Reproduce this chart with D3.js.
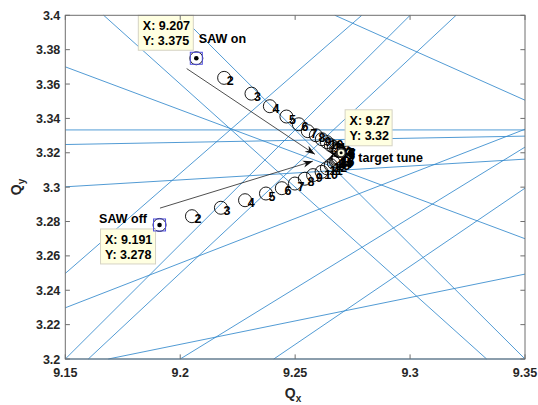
<!DOCTYPE html>
<html>
<head>
<meta charset="utf-8">
<script src="https://cdn.jsdelivr.net/npm/d3@7"></script>
<style>
  html, body { margin: 0; padding: 0; background: #fff; }
  svg { display: block; font-family: "Liberation Sans", Arial, sans-serif; }
</style>
</head>
<body>
<script>
//## Data

const xTicks = [9.15, 9.2, 9.25, 9.3, 9.35];
const yTicks = [3.2, 3.22, 3.24, 3.26, 3.28, 3.3, 3.32, 3.34, 3.36, 3.38, 3.4];

// resonance lines, end points as [Qx1, Qy1, Qx2, Qy2]
const resonanceLines = [
  [9.1667, 3.4, 9.3333, 3.2],
  [9.2, 3.4, 9.35, 3.2],
  [9.15, 3.37, 9.35, 3.27],
  [9.2673, 3.4, 9.35, 3.3506],
  [9.15, 3.3333, 9.35, 3.3333],
  [9.15, 3.3248, 9.35, 3.3297],
  [9.15, 3.3002, 9.35, 3.3163],
  [9.15, 3.2498, 9.279, 3.4],
  [9.15, 3.2298, 9.35, 3.3337],
  [9.15, 3.2, 9.3, 3.4],
  [9.16, 3.2, 9.32, 3.4],
  [9.1687, 3.2, 9.35, 3.2494],
  [9.2, 3.2, 9.35, 3.3233],
  [9.2407, 3.2, 9.35, 3.2994],
  [9.15, 3.2, 9.35, 3.2]
];

// tune steps with SAW on
const qxOn = [9.207, 9.2191, 9.231, 9.239, 9.2462, 9.2516, 9.2555, 9.259, 9.2616, 9.2638,
              9.2655, 9.2668, 9.2678, 9.2684, 9.2688, 9.269, 9.2692];
const qyOn = [3.375, 3.3636, 3.3544, 3.3471, 3.3411, 3.3366, 3.3326, 3.3302, 3.3279, 3.3262,
              3.3244, 3.3233, 3.3224, 3.3219, 3.3215, 3.3212, 3.321];

// tune steps with SAW off
const qxOff = [9.191, 9.2051, 9.2177, 9.2282, 9.2373, 9.2442, 9.2499, 9.2542, 9.2578, 9.2615,
               9.2638, 9.2655, 9.2668, 9.2676, 9.2682, 9.2686, 9.2689];
const qyOff = [3.278, 3.2831, 3.288, 3.2924, 3.2963, 3.2994, 3.3021, 3.3049, 3.307, 3.3089,
               3.311, 3.3128, 3.3142, 3.3152, 3.316, 3.3166, 3.317];

const dataTips = [
  { qx: 9.207, qy: 3.375, lines: ["X: 9.207", "Y: 3.375"], dx: -58, dy: -43, w: 55, h: 35, sel: true },
  { qx: 9.27, qy: 3.32, lines: ["X: 9.27", "Y: 3.32"], dx: 4, dy: -43, w: 47, h: 36, sel: false },
  { qx: 9.191, qy: 3.278, lines: ["X: 9.191", "Y: 3.278"], dx: -59, dy: 4, w: 55, h: 35, sel: true }
];

const notes = [
  { text: "SAW on", qx: 9.2081, qy: 3.3837 },
  { text: "SAW off", qx: 9.1647, qy: 3.2791 },
  { text: "target tune", qx: 9.2775, qy: 3.3145 }
];

const arrows = [
  [9.2028, 3.369, 9.2586, 3.3191],
  [9.1912, 3.2878, 9.2577, 3.3151]
];

//## Chart

const width = 538, height = 405;
const x = d3.scaleLinear([9.15, 9.35], [65.3, 525]);
const y = d3.scaleLinear([3.2, 3.4], [359, 15.3]);

const svg = d3.select("body").append("svg")
  .attr("width", width)
  .attr("height", height);

const axisColor = "#262626";
const tickLen = 4.6;

// resonance lines
svg.append("g")
  .selectAll("line")
  .data(resonanceLines)
  .join("line")
  .attr("x1", d => x(d[0]))
  .attr("y1", d => y(d[1]))
  .attr("x2", d => x(d[2]))
  .attr("y2", d => y(d[3]))
  .attr("stroke", "#3389cc")
  .attr("stroke-width", 0.85);

// arrows
function arrowHead(x1, y1, x2, y2, len = 10, wid = 7) {
  const a = Math.atan2(y2 - y1, x2 - x1);
  const c = Math.cos(a), s = Math.sin(a);
  const bx = x2 - len * c, by = y2 - len * s;
  const nx = x2 - len * 0.7 * c, ny = y2 - len * 0.7 * s;
  return `M${x2},${y2}L${bx - wid / 2 * s},${by + wid / 2 * c}L${nx},${ny}L${bx + wid / 2 * s},${by - wid / 2 * c}Z`;
}

const arr = svg.append("g");
arr.selectAll("line")
  .data(arrows)
  .join("line")
  .attr("x1", d => x(d[0]))
  .attr("y1", d => y(d[1]))
  .attr("x2", d => x(d[2]))
  .attr("y2", d => y(d[3]))
  .attr("stroke", "#222")
  .attr("stroke-width", 0.8);
arr.selectAll("path")
  .data(arrows)
  .join("path")
  .attr("d", d => arrowHead(x(d[0]), y(d[1]), x(d[2]), y(d[3])))
  .attr("fill", "#111");

// tune steps
function steps(qx, qy) {
  const g = svg.append("g");
  const pts = qx.map((v, i) => ({ qx: v, qy: qy[i], n: i + 1 }));
  g.selectAll("circle")
    .data(pts)
    .join("circle")
    .attr("cx", d => x(d.qx))
    .attr("cy", d => y(d.qy))
    .attr("r", 6.5)
    .attr("fill", "none")
    .attr("stroke", "#000")
    .attr("stroke-width", 0.9);
  g.selectAll("text")
    .data(pts.slice(1))
    .join("text")
    .attr("x", d => x(d.qx) + 2.6)
    .attr("y", d => y(d.qy) + 7)
    .attr("font-size", "12.5px")
    .attr("font-weight", "bold")
    .attr("fill", "#000")
    .text(d => d.n);
}
steps(qxOn, qyOn);
steps(qxOff, qyOff);

// text notes
svg.append("g")
  .selectAll("text")
  .data(notes)
  .join("text")
  .attr("x", d => x(d.qx))
  .attr("y", d => y(d.qy))
  .attr("font-size", "12.5px")
  .attr("font-weight", "bold")
  .attr("fill", "#000")
  .text(d => d.text);

// data tips
const tips = svg.append("g")
  .selectAll("g")
  .data(dataTips)
  .join("g");

tips.append("rect")
  .attr("x", d => x(d.qx) + d.dx)
  .attr("y", d => y(d.qy) + d.dy)
  .attr("width", d => d.w)
  .attr("height", d => d.h)
  .attr("fill", "#ffffe1")
  .attr("stroke", "#d6d3c4")
  .attr("stroke-width", 1);

tips.each(function (d) {
  const t = d3.select(this);
  d.lines.forEach((s, i) => {
    t.append("text")
      .attr("x", x(d.qx) + d.dx + 4.5)
      .attr("y", y(d.qy) + d.dy + 15 + i * 15)
      .attr("font-size", "12.5px")
      .attr("font-weight", "bold")
      .attr("fill", "#000")
      .text(s);
  });
});

tips.filter(d => d.sel).append("rect")
  .attr("x", d => x(d.qx) - 6)
  .attr("y", d => y(d.qy) - 6)
  .attr("width", 12)
  .attr("height", 12)
  .attr("fill", "none")
  .attr("stroke", "#5050e0")
  .attr("stroke-width", 1);

tips.filter(d => !d.sel).append("circle")
  .attr("cx", d => x(d.qx))
  .attr("cy", d => y(d.qy))
  .attr("r", 4)
  .attr("fill", "#ffffe1")
  .attr("stroke", "#333")
  .attr("stroke-width", 1.2);

tips.append("circle")
  .attr("cx", d => x(d.qx))
  .attr("cy", d => y(d.qy))
  .attr("r", d => d.sel ? 2.3 : 1.5)
  .attr("fill", "#000");

//## Axes

const [x0, x1] = x.range();
const [y0, y1] = y.range();

const ax = svg.append("g");
ax.append("rect")
  .attr("x", x0)
  .attr("y", y1)
  .attr("width", x1 - x0)
  .attr("height", y0 - y1)
  .attr("fill", "none")
  .attr("stroke", "#6e6e6e")
  .attr("stroke-width", 1);

// inward ticks on all four sides
ax.selectAll(".xt")
  .data(xTicks)
  .join("path")
  .attr("d", d => `M${x(d)},${y0}v${-tickLen}M${x(d)},${y1}v${tickLen}`)
  .attr("stroke", "#6e6e6e");
ax.selectAll(".yt")
  .data(yTicks)
  .join("path")
  .attr("d", d => `M${x0},${y(d)}h${tickLen}M${x1},${y(d)}h${-tickLen}`)
  .attr("stroke", "#6e6e6e");

ax.selectAll(".xl")
  .data(xTicks)
  .join("text")
  .attr("x", d => x(d))
  .attr("y", y0 + 18)
  .attr("text-anchor", "middle")
  .attr("font-size", "12.5px")
  .attr("font-weight", "bold")
  .attr("fill", axisColor)
  .text(d => d3.format("")(d));
ax.selectAll(".yl")
  .data(yTicks)
  .join("text")
  .attr("x", x0 - 5)
  .attr("y", d => y(d) + 4.5)
  .attr("text-anchor", "end")
  .attr("font-size", "12.5px")
  .attr("font-weight", "bold")
  .attr("fill", axisColor)
  .text(d => d3.format("")(d));

// axis titles
const xt = ax.append("text")
  .attr("x", 293)
  .attr("y", 398)
  .attr("text-anchor", "middle")
  .attr("font-size", "14px")
  .attr("font-weight", "bold")
  .attr("fill", axisColor);
xt.append("tspan").text("Q");
xt.append("tspan").attr("font-size", "10px").attr("dy", 4).text("x");

const yt = ax.append("text")
  .attr("transform", "translate(21,187) rotate(-90)")
  .attr("text-anchor", "middle")
  .attr("font-size", "14px")
  .attr("font-weight", "bold")
  .attr("fill", axisColor);
yt.append("tspan").text("Q");
yt.append("tspan").attr("font-size", "10px").attr("dy", 4).text("y");
</script>
</body>
</html>
